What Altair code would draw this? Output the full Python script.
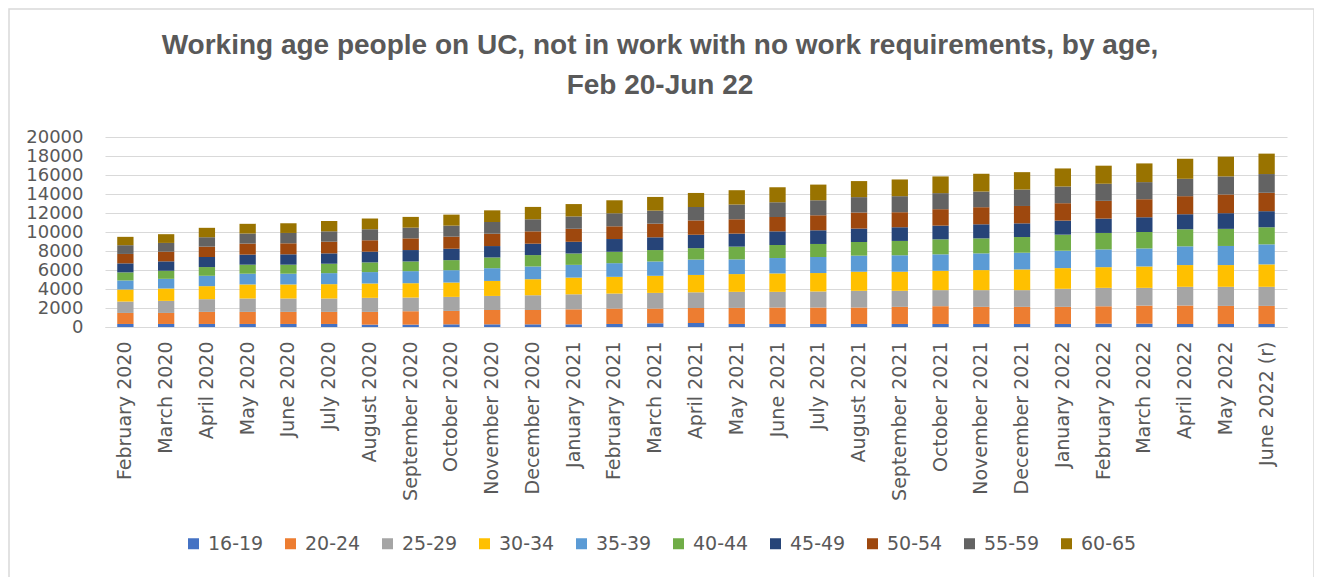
import altair as alt
import pandas as pd

months = ["February 2020", "March 2020", "April 2020", "May 2020", "June 2020", "July 2020",
          "August 2020", "September 2020", "October 2020", "November 2020", "December 2020",
          "January 2021", "February 2021", "March 2021", "April 2021", "May 2021", "June 2021",
          "July 2021", "August 2021", "September 2021", "October 2021", "November 2021",
          "December 2021", "January 2022", "February 2022", "March 2022", "April 2022",
          "May 2022", "June 2022 (r)"]

ages = ["16-19", "20-24", "25-29", "30-34", "35-39", "40-44", "45-49", "50-54", "55-59", "60-65"]
colors = ["#4472C4", "#ED7D31", "#A5A5A5", "#FFC000", "#5B9BD5", "#70AD47", "#264478",
          "#9E480E", "#636363", "#997300"]

age_16_19 = [320, 320, 320, 320, 320, 320, 250, 250, 280, 280, 280, 280, 320, 390, 420,
             320, 320, 320, 320, 320, 320, 320, 320, 320, 350, 350, 320, 320, 320]
age_20_24 = [1160, 1160, 1270, 1270, 1270, 1270, 1340, 1410, 1410, 1510, 1510, 1580, 1620, 1550, 1580,
             1690, 1730, 1730, 1730, 1800, 1870, 1800, 1800, 1800, 1830, 1900, 1940, 1900, 1900]
age_25_29 = [1200, 1270, 1340, 1410, 1410, 1410, 1480, 1440, 1480, 1480, 1550, 1580, 1580, 1650, 1650,
             1690, 1650, 1690, 1760, 1690, 1690, 1760, 1760, 1900, 1940, 1870, 1970, 2010, 2010]
age_30_34 = [1270, 1300, 1370, 1480, 1480, 1510, 1510, 1510, 1510, 1580, 1690, 1760, 1760, 1800, 1830,
             1870, 1940, 1940, 2010, 2010, 2040, 2110, 2180, 2180, 2180, 2250, 2290, 2290, 2360]
age_35_39 = [950, 1020, 1090, 1130, 1130, 1160, 1200, 1270, 1300, 1340, 1340, 1340, 1440, 1510, 1620,
             1550, 1620, 1690, 1690, 1730, 1730, 1760, 1760, 1830, 1870, 1900, 1970, 2010, 2110]
age_40_44 = [850, 850, 920, 950, 950, 990, 1020, 1020, 1060, 1130, 1200, 1200, 1200, 1200, 1200,
             1340, 1370, 1370, 1440, 1510, 1580, 1580, 1650, 1690, 1730, 1730, 1800, 1800, 1800]
age_45_49 = [950, 990, 1060, 1060, 1090, 1090, 1130, 1200, 1200, 1200, 1200, 1230, 1340, 1340, 1410,
             1370, 1440, 1440, 1410, 1440, 1440, 1480, 1440, 1480, 1510, 1550, 1580, 1650, 1690]
age_50_54 = [990, 1020, 1090, 1160, 1160, 1230, 1200, 1230, 1270, 1300, 1300, 1370, 1340, 1440, 1510,
             1510, 1510, 1580, 1690, 1580, 1730, 1800, 1830, 1830, 1870, 1900, 1900, 1970, 1940]
age_55_59 = [920, 920, 990, 1060, 1090, 1090, 1160, 1130, 1160, 1230, 1270, 1300, 1370, 1370, 1410,
             1550, 1550, 1580, 1620, 1690, 1690, 1650, 1730, 1760, 1800, 1800, 1830, 1900, 1970]
age_60_65 = [880, 920, 990, 1020, 1020, 1090, 1130, 1130, 1160, 1230, 1300, 1300, 1370, 1440, 1480,
             1510, 1580, 1650, 1690, 1760, 1760, 1870, 1830, 1900, 1900, 1970, 2110, 2080, 2150]

y_ticks = list(range(0, 20001, 2000))

series = [age_16_19, age_20_24, age_25_29, age_30_34, age_35_39,
          age_40_44, age_45_49, age_50_54, age_55_59, age_60_65]

rows = []
for i, (age, vals) in enumerate(zip(ages, series)):
    for m, v in zip(months, vals):
        rows.append({"month": m, "age": age, "value": v, "idx": i})
df = pd.DataFrame(rows)

GRAY = "#595959"

bars = alt.Chart(df).mark_bar().encode(
    x=alt.X("month:N", sort=months,
            scale=alt.Scale(paddingInner=0.6, paddingOuter=0.3),
            axis=alt.Axis(title=None, labelAngle=-90, ticks=False, domainColor="#d9d9d9",
                          domainWidth=1, labelPadding=14, labelFont="DejaVu Sans",
                          labelFontSize=19, labelColor=GRAY, labelLimit=400)),
    y=alt.Y("value:Q", stack="zero",
            scale=alt.Scale(domain=[0, 20000], nice=False),
            axis=alt.Axis(title=None, values=y_ticks, format="d", ticks=False, domain=False,
                          labelOverlap=False,
                          gridColor="#d9d9d9", gridWidth=1, labelPadding=22,
                          labelFont="DejaVu Sans", labelFontSize=18, labelColor=GRAY)),
    color=alt.Color("age:N", scale=alt.Scale(domain=ages, range=colors),
                    legend=alt.Legend(title=None, orient="none", legendX=79, legendY=397,
                                      direction="horizontal", columns=10,
                                      symbolType="square", symbolSize=121,
                                      symbolStrokeWidth=0, labelFont="DejaVu Sans",
                                      labelFontSize=19, labelColor=GRAY,
                                      labelOffset=5, columnPadding=17)),
    order=alt.Order("idx:Q", sort="ascending"),
)

frame = alt.Chart(alt.Data(values=[{}])).mark_rect(
    fill=None, stroke="#d9d9d9", strokeWidth=1.5
).encode(
    x=alt.value(-96), x2=alt.value(1209), y=alt.value(-128), y2=alt.value(460)
)

chart = alt.layer(frame, bars).properties(
    width=1182,
    height=190,
    autosize=alt.AutoSizeParams(type="none"),
    padding={"left": 97, "top": 129, "right": 27, "bottom": 250},
    title=alt.TitleParams(
        text=["Working age people on UC, not in work with no work requirements, by age,",
              "Feb 20-Jun 22"],
        font="Liberation Sans", fontSize=28, fontWeight="bold", color=GRAY,
        lineHeight=40, anchor="middle", dx=-36, offset=-92),
).configure_view(stroke=None)

chart.save("out.html", embed_options={"renderer": "svg", "actions": False})
